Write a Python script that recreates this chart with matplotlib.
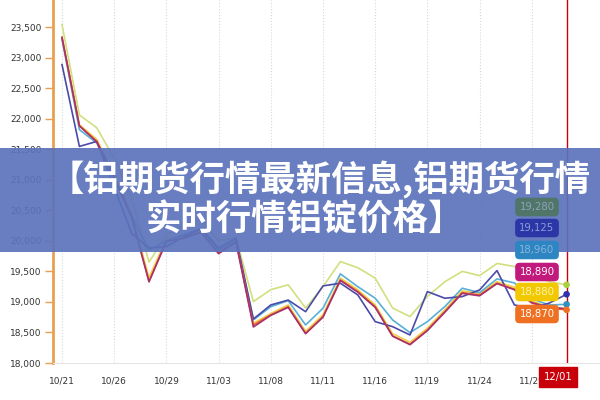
import matplotlib
matplotlib.use('Agg')
import matplotlib.pyplot as plt
from matplotlib.patches import Rectangle
import numpy as np

# trading days 10/21 .. 12/01
dates = ['10/21', '10/22', '10/25', '10/26', '10/27', '10/28', '10/29',
         '11/01', '11/02', '11/03', '11/04', '11/05', '11/08', '11/09',
         '11/10', '11/11', '11/12', '11/15', '11/16', '11/17', '11/18',
         '11/19', '11/22', '11/23', '11/24', '11/25', '11/26', '11/29',
         '11/30', '12/01']

lime = [23540, 22060, 21850, 21350, 20700, 19650, 20100, 20250, 20350, 20000,
        20050, 19005, 19200, 19280, 18900, 19250, 19660, 19560, 19390, 18900,
        18760, 19090, 19330, 19500, 19430, 19630, 19580, 19450, 19330, 19280]
navy = [22885, 21545, 21627, 20880, 20125, 19880, 19906, 20070, 20200, 19880,
        20044, 18720, 18950, 19030, 18840, 19262, 19306, 19114, 18677, 18595,
        18459, 19169, 19060, 19087, 19196, 19513, 18950, 18900, 18980, 19125]
teal = [23300, 21820, 21600, 21000, 20400, 19850, 20000, 20100, 20200, 19850,
        20000, 18705, 18923, 19021, 18623, 18897, 19459, 19250, 19060, 18705,
        18497, 18677, 18923, 19224, 19152, 19377, 19311, 19050, 18950, 18960]
yellow = [23340, 21900, 21660, 21080, 20430, 19400, 20030, 20080, 20180, 19830,
          20010, 18650, 18810, 18950, 18520, 18790, 19390, 19200, 18950, 18480,
          18340, 18570, 18870, 19180, 19140, 19330, 19240, 19010, 18920, 18880]
magenta = [23330, 21880, 21620, 21040, 20390, 19330, 19990, 20040, 20140, 19790,
           19980, 18590, 18780, 18910, 18480, 18750, 19350, 19160, 18910, 18440,
           18300, 18530, 18830, 19140, 19100, 19300, 19200, 18990, 18910, 18890]
orange = [23322, 21884, 21627, 21050, 20400, 19333, 20000, 20050, 20150, 19798,
          19988, 18623, 18787, 18923, 18487, 18759, 19360, 19169, 18923, 18443,
          18306, 18541, 18841, 19152, 19114, 19306, 19208, 18980, 18900, 18870]

series = [
    (lime, '#d2df7e'),
    (yellow, '#f2cf48'),
    (teal, '#58b0d6'),
    (navy, '#4a4aa8'),
    (orange, '#e8642c'),
    (magenta, '#a8306c'),
]

last_labels = ['19,280', '19,125', '18,960', '18,890', '18,880', '18,870']
last_box_colors = ['#4f7668', '#2c36a6', '#2d86c2', '#c21a7c', '#f2c800', '#f07022']
last_text_colors = ['#8fa3b8', '#8a9ed8', '#8ab4dc', 'white', '#fff3b0', 'white']

fig = plt.figure(figsize=(6, 4), dpi=100)
ax = fig.add_axes([53/600, 37/400, 547/600, 363/400])

x = np.arange(len(dates))
for vals, col in series:
    ax.plot(x, vals, color=col, lw=1.2, zorder=3)

# end points on 12/01
ax.scatter([29]*4, [lime[-1], navy[-1], teal[-1], orange[-1]],
           c=['#a8d040', '#3030b0', '#3090c0', '#f07020'], s=14, zorder=5)

ax.axvline(29, color='#c8000a', lw=1, zorder=4)

ax.set_xlim(-0.517, 30.92)
ax.set_ylim(18000, 23942)
yt = np.arange(18000, 24000, 500)
ax.set_yticks(yt)
ax.set_yticklabels(['{:,}'.format(v) for v in yt], fontsize=6.5, color='#333333')
xt = list(range(0, 30, 3))
ax.set_xticks(xt)
ax.set_xticklabels([dates[i] for i in xt], fontsize=6.5, color='#333333')
ax.tick_params(axis='y', length=6, width=1, color='#e8a050', pad=2)
ax.tick_params(axis='x', length=0, pad=10)
ax.grid(axis='x', color='#d8d8d8', ls=':', lw=0.8)

for s in ['top', 'right']:
    ax.spines[s].set_visible(False)
ax.spines['left'].set_color('#e8a050')
ax.spines['left'].set_linewidth(2)
ax.spines['bottom'].set_color('#e6e6e6')

# red date flag at the bottom
fig.text(558/600, 1-377/400, '12/01', ha='center', va='center',
         fontsize=7.2, color='white',
         bbox=dict(boxstyle='square,pad=0.5', fc='#c8000a', ec='#c8000a'), zorder=6)

# banner
fig.patches.append(Rectangle((0, (400-252)/400), 1, 104/400, transform=fig.transFigure,
                             fc='#5b73bb', ec='none', alpha=0.92, zorder=5))
fig.text(320/600, 1-180/400, '【铝期货行情最新信息,铝期货行情', ha='center', va='center',
         fontsize=25.5, color='white', fontweight='heavy',
         family=['Noto Sans CJK SC', 'DejaVu Sans'], zorder=7)
fig.text(305/600, 1-220/400, '实时行情铝锭价格】', ha='center', va='center',
         fontsize=25.5, color='white', fontweight='heavy',
         family=['Noto Sans CJK SC', 'DejaVu Sans'], zorder=7)

# value boxes for the last point
box_y = [207, 228, 250, 272, 292, 314]
for lab, py, fc, tc in zip(last_labels, box_y, last_box_colors, last_text_colors):
    fig.text(537/600, 1-py/400, lab, ha='center', va='center', fontsize=7.3, color=tc,
             bbox=dict(boxstyle='round,pad=0.42', fc=fc, ec='none'), zorder=8)

fig.savefig('out.png', dpi=100)
